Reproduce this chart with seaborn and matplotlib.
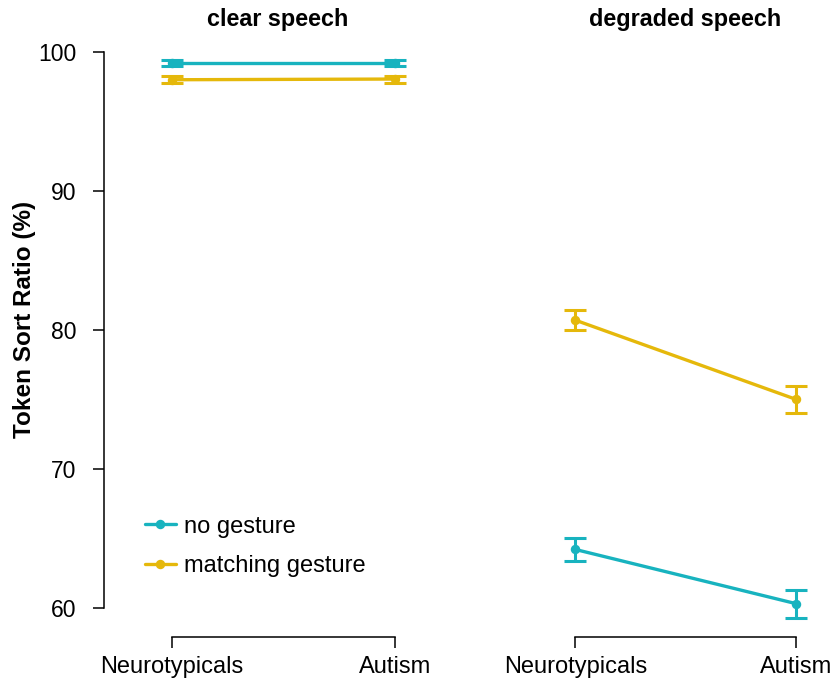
import matplotlib
matplotlib.use("Agg")
import matplotlib.pyplot as plt
import seaborn as sns
import pandas as pd

groups = ["Neurotypicals", "Autism"]
conditions = ["no gesture", "matching gesture"]
panels = ["clear speech", "degraded speech"]

clear_no_gesture = [99.2, 99.2]
clear_no_gesture_se = [0.2, 0.2]
clear_matching = [98.0, 98.05]
clear_matching_se = [0.25, 0.25]
degraded_no_gesture = [64.2, 60.3]
degraded_no_gesture_se = [0.85, 1.0]
degraded_matching = [80.7, 75.0]
degraded_matching_se = [0.7, 0.95]

yticks = [60, 70, 80, 90, 100]
ylabel = "Token Sort Ratio (%)"

colors = {"no gesture": "#18B3BF", "matching gesture": "#E5B80B"}

rows = []
for panel, ng, ngse, mg, mgse in [
    ("clear speech", clear_no_gesture, clear_no_gesture_se, clear_matching, clear_matching_se),
    ("degraded speech", degraded_no_gesture, degraded_no_gesture_se, degraded_matching, degraded_matching_se),
]:
    for g, v, s in zip(groups, ng, ngse):
        rows.append(dict(panel=panel, group=g, condition="no gesture", value=v, se=s))
    for g, v, s in zip(groups, mg, mgse):
        rows.append(dict(panel=panel, group=g, condition="matching gesture", value=v, se=s))
df = pd.DataFrame(rows)

sns.set_style("white")
plt.rcParams["font.family"] = ["Liberation Sans", "DejaVu Sans"]
plt.rcParams["text.color"] = "black"
plt.rcParams["axes.labelcolor"] = "black"
plt.rcParams["xtick.color"] = "black"
plt.rcParams["ytick.color"] = "black"

W, H = 839, 682
fig = plt.figure(figsize=(W / 100, H / 100), dpi=100)
bottom = (H - 637) / H
top = 1 - 45 / H
axL = fig.add_axes([104 / W, bottom, 359 / W, top - bottom])
axR = fig.add_axes([508 / W, bottom, 320 / W, top - bottom])

for ax, panel, xlim, tx in [(axL, "clear speech", (-0.305, 1.305), 0.485),
                            (axR, "degraded speech", (-0.305, 1.145), 0.553)]:
    sub = df[df.panel == panel]
    sns.pointplot(data=sub, x="group", y="value", hue="condition", order=groups,
                  hue_order=conditions, palette=colors, errorbar=None, markers="o",
                  markersize=5, linewidth=2.4, ax=ax, legend=(ax is axL))
    for cond in conditions:
        s = sub[sub.condition == cond].set_index("group").loc[groups]
        ax.errorbar(range(len(groups)), s["value"], yerr=s["se"], fmt="none",
                    ecolor=colors[cond], elinewidth=2.2, capsize=8, capthick=2.2, zorder=3)
    ax.set_xlim(*xlim)
    ax.set_ylim(57.9, 100.5)
    t = ax.set_title(panel, fontsize=16.8, fontweight="bold", pad=14, color="black")
    t.set_x(tx)
    ax.set_xlabel("")
    ax.set_ylabel("")
    ax.set_yticks(yticks)
    ax.tick_params(axis="x", labelsize=17, length=8, width=1.1, direction="out", pad=6, bottom=True)
    ax.tick_params(axis="y", labelsize=16.5, length=8, width=1.1, direction="out", pad=12, left=True)
    for sp in ["top", "right"]:
        ax.spines[sp].set_visible(False)
    ax.spines["bottom"].set_bounds(0, 1)
    ax.spines["bottom"].set_linewidth(1.1)
    ax.spines["bottom"].set_color("black")
    ax.spines["left"].set_bounds(60, 100)
    ax.spines["left"].set_linewidth(1.1)
    ax.spines["left"].set_color("black")

axL.set_ylabel(ylabel, fontsize=17.5, fontweight="bold")
axL.yaxis.set_label_coords(-0.19, 0.537)
axR.spines["left"].set_visible(False)
axR.tick_params(axis="y", left=False, labelleft=False)

handles, labels = axL.get_legend_handles_labels()
axL.legend(handles[:2], labels[:2], loc="lower left", bbox_to_anchor=(0.055, 0.065),
           frameon=False, fontsize=17, handlelength=1.3, handletextpad=0.35,
           labelspacing=0.75)

fig.savefig("out.png", dpi=100)
